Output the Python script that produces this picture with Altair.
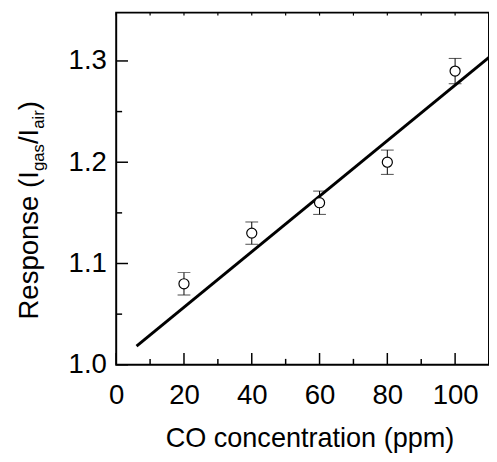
import altair as alt
import pandas as pd

# ---- data ----
conc = [20, 40, 60, 80, 100]
response = [1.080, 1.130, 1.160, 1.200, 1.290]
err = [0.011, 0.011, 0.0115, 0.012, 0.0125]
fit_x = [6, 110]
fit_y = [1.0185, 1.3035]
x_major = [0, 20, 40, 60, 80, 100]
x_minor = [10, 30, 50, 70, 90, 110]
y_major = [1.0, 1.1, 1.2, 1.3]
y_minor = [1.05, 1.15, 1.25]

df = pd.DataFrame({
    "conc": conc,
    "resp": response,
    "lo": [r - e for r, e in zip(response, err)],
    "hi": [r + e for r, e in zip(response, err)],
})
fit = pd.DataFrame({"x": fit_x, "y": fit_y})
one = pd.DataFrame({"k": [0]})

FONT = "Liberation Sans"
W, H = 379, 358
xscale = alt.Scale(domain=[0, 110], nice=False, zero=False)
yscale = alt.Scale(domain=[1.0, 1.3477], nice=False, zero=False)

x_axis = alt.Axis(
    values=x_major, title=None, domain=False, grid=False, ticks=False,
    labelFont=FONT, labelFontSize=28, labelColor="black", labelPadding=17,
    labelFlush=False, labelOverlap=False,
)
y_axis = alt.Axis(
    values=y_major, title=None, domain=False, grid=False, ticks=False, format=".1f",
    labelFont=FONT, labelFontSize=28, labelColor="black", labelPadding=10,
    labelFlush=False, labelOverlap=False,
)

base = alt.Chart(df)

bars = base.mark_errorbar(ticks=True, size=13, thickness=1, color="black", orient="vertical").encode(
    x=alt.X("conc:Q", scale=xscale, axis=None),
    y=alt.Y("lo:Q", scale=yscale, axis=None),
    y2="hi:Q",
)
points = base.mark_point(shape="circle", filled=True, fill="white", stroke="black",
                         strokeWidth=1.2, size=105, opacity=1).encode(
    x=alt.X("conc:Q", scale=xscale, axis=x_axis),
    y=alt.Y("resp:Q", scale=yscale, axis=y_axis),
)
line = alt.Chart(fit).mark_line(color="black", strokeWidth=3, clip=True).encode(
    x=alt.X("x:Q", scale=xscale, axis=None),
    y=alt.Y("y:Q", scale=yscale, axis=None),
)

# inward tick marks, placed through the scales
def xticks(vals, y_from, y_to, width):
    return alt.Chart(pd.DataFrame({"v": vals})).mark_rule(color="black", strokeWidth=width).encode(
        x=alt.X("v:Q", scale=xscale, axis=None), y=alt.value(y_from), y2=alt.value(y_to))

def yticks(vals, x_from, x_to, width):
    return alt.Chart(pd.DataFrame({"v": vals})).mark_rule(color="black", strokeWidth=width).encode(
        y=alt.Y("v:Q", scale=yscale, axis=None), x=alt.value(x_from), x2=alt.value(x_to))

tk = [
    xticks(x_major, H, H - 12, 1.5),
    xticks(x_minor, H, H - 6, 1.5),
    xticks(x_major + x_minor, 0, 3, 1.2),
    yticks(y_major, 0, 12, 1.5),
    yticks(y_minor, 0, 6, 1.5),
]

# axis titles (y title has subscripts -> pieces)
TS = 28
SS = 17
bx = -80          # baseline x of main y-title text (plot coords)
y0 = 312          # start (bottom) of y title
w_main1 = 5.391 * TS
w_gas = 1.612 * SS
w_slash = 0.556 * TS
w_air = 1.111 * SS

def piece(txt, size, xpos, ypos):
    return alt.Chart(one).mark_text(
        text=txt, font=FONT, fontSize=size, angle=270, align="left",
        baseline="alphabetic", color="black",
    ).encode(x=alt.value(xpos), y=alt.value(ypos))

p1 = piece("Response (I", TS, bx, y0)
p2 = piece("gas", SS, bx + 7, y0 - w_main1)
p3 = piece("/I", TS, bx, y0 - w_main1 - w_gas)
p4 = piece("air", SS, bx + 7, y0 - w_main1 - w_gas - w_slash)
p5 = piece(")", TS, bx, y0 - w_main1 - w_gas - w_slash - w_air)

xtitle = alt.Chart(one).mark_text(
    text="CO concentration (ppm)", font=FONT, fontSize=27.5, align="center",
    baseline="alphabetic", color="black",
).encode(x=alt.value(197), y=alt.value(442))

chart = alt.layer(bars, line, points, *tk, p1, p2, p3, p4, p5, xtitle).resolve_axis(
    x="independent", y="independent"
).properties(
    width=W, height=H, autosize="none",
    padding={"left": 110, "top": 1, "right": 0, "bottom": 88},
).configure_view(stroke="black", strokeWidth=2)

chart.save("out.html", embed_options={"renderer": "svg", "actions": False})
